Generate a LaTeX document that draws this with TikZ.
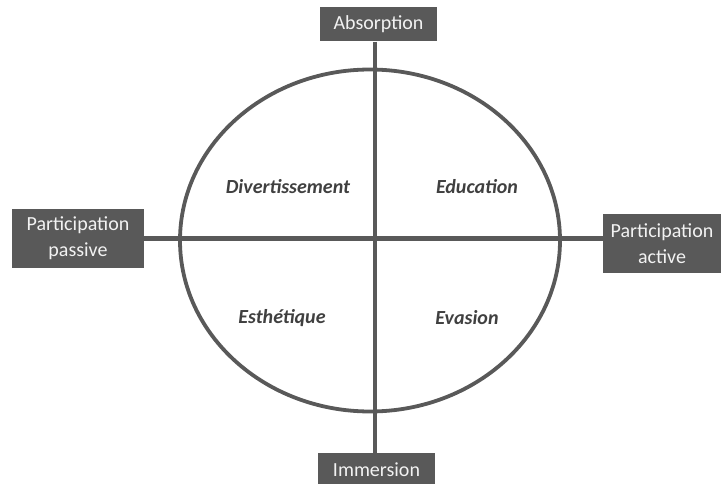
\documentclass[tikz,border=0pt]{standalone}
\usepackage{fontspec}
\setmainfont{Carlito}
\definecolor{boxgray}{HTML}{595959}
\definecolor{txtgray}{HTML}{404040}
\begin{document}
\begin{tikzpicture}[x=1pt,y=-1pt,
  label box/.style={fill=boxgray,text=white!95!black,inner sep=0pt,align=center,font=\fontsize{20}{26}\selectfont},
  quad/.style={text=txtgray,font=\fontsize{20}{24}\selectfont\bfseries\itshape},
  axis/.style={draw=boxgray,line width=4.5pt}]
\useasboundingbox (0,0) rectangle (721,484);
\coordinate (c) at (375,238.5);
\coordinate (ec) at (370,240.5);
\draw[draw=boxgray,line width=3.8pt] (ec) ellipse [x radius=190, y radius=171];
\node[label box,minimum width=117pt,minimum height=34pt] (abs) at (378.5,24.5) {Absorption};
\node[label box,minimum width=117pt,minimum height=34pt] (imm) at (376.5,470) {Immersion};
\node[label box,minimum width=132pt,minimum height=58pt] (pp) at (78,238.5) {Participation\\passive};
\node[label box,minimum width=118pt,minimum height=59pt] (pa) at (662,243.5) {Participation\\active};
\draw[axis] (c |- abs.south) -- (c |- imm.north);
\draw[axis] (pp.east) -- (pp.east -| pa.west);
\node[quad] (div) at (288,187) {Divertissement};
\node[quad] (edu) at (477,187) {Education};
\node[quad] (est) at (282,318) {Esthétique};
\node[quad] (eva) at (467,318) {Evasion};
\end{tikzpicture}
\end{document}
